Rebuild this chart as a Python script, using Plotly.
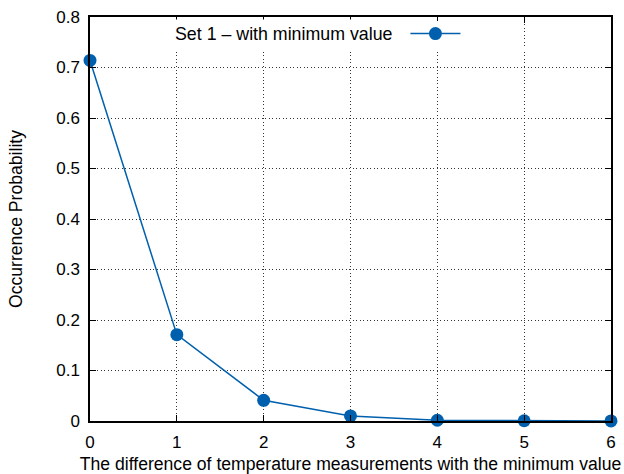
import plotly.graph_objects as go

x_vals = [0, 1, 2, 3, 4, 5, 6]
y_vals = [0.714, 0.171, 0.041, 0.010, 0.0015, 0.0005, 0.0002]
series_name = "Set 1 – with minimum value"
x_title = "The difference of temperature measurements with the minimum value"
y_title = "Occurrence Probability"

color = "#0060ad"
fam = "Liberation Sans, Arial, sans-serif"
tick_font = dict(family=fam, size=17, color="black")
title_font = dict(family=fam, size=17.6, color="black")
legend_font = dict(family=fam, size=17.8, color="black")

fig = go.Figure()
fig.add_trace(go.Scatter(
    x=x_vals, y=y_vals, mode="lines+markers", name=series_name,
    line=dict(color=color, width=1.5),
    marker=dict(color=color, size=13),
    cliponaxis=False, showlegend=False,
))

axis_common = dict(
    showline=True, linecolor="black", linewidth=1.5, mirror="allticks",
    ticks="inside", ticklen=6, tickcolor="black", tickwidth=1,
    showgrid=True, gridcolor="#333333", gridwidth=1, griddash="1px,2.5px",
    zeroline=False, tickfont=tick_font, automargin=False,
)

fig.update_xaxes(range=[0, 6], dtick=1, tick0=0, ticklabelstandoff=5,
                 title=dict(text=x_title, font=title_font, standoff=12), **axis_common)
fig.update_yaxes(range=[0, 0.8], dtick=0.1, tick0=0, ticklabelstandoff=5,
                 title=dict(text=y_title, font=title_font, standoff=29), **axis_common)

# legend (gnuplot style: text then sample)
fig.add_annotation(xref="paper", yref="paper", x=0.592, y=0.959,
                   xanchor="right", yanchor="middle", text=series_name,
                   showarrow=False, font=legend_font, bgcolor="white", borderpad=4)
fig.add_shape(type="rect", xref="paper", yref="paper", x0=0.615, x1=0.72,
              y0=0.925, y1=0.99, fillcolor="white", line=dict(width=0))
fig.add_shape(type="line", xref="paper", yref="paper", x0=0.615, x1=0.711,
              y0=0.959, y1=0.959, line=dict(color=color, width=1.5))
fig.add_shape(type="circle", xref="paper", yref="paper", x0=0.6505, x1=0.6755,
              y0=0.959 - 0.016, y1=0.959 + 0.016, fillcolor=color,
              line=dict(color=color, width=0))

fig.update_layout(
    width=624, height=474,
    margin=dict(l=90, r=13, t=17, b=53),
    plot_bgcolor="white", paper_bgcolor="white",
    font=tick_font, showlegend=False,
)

fig.write_html("out.html")
